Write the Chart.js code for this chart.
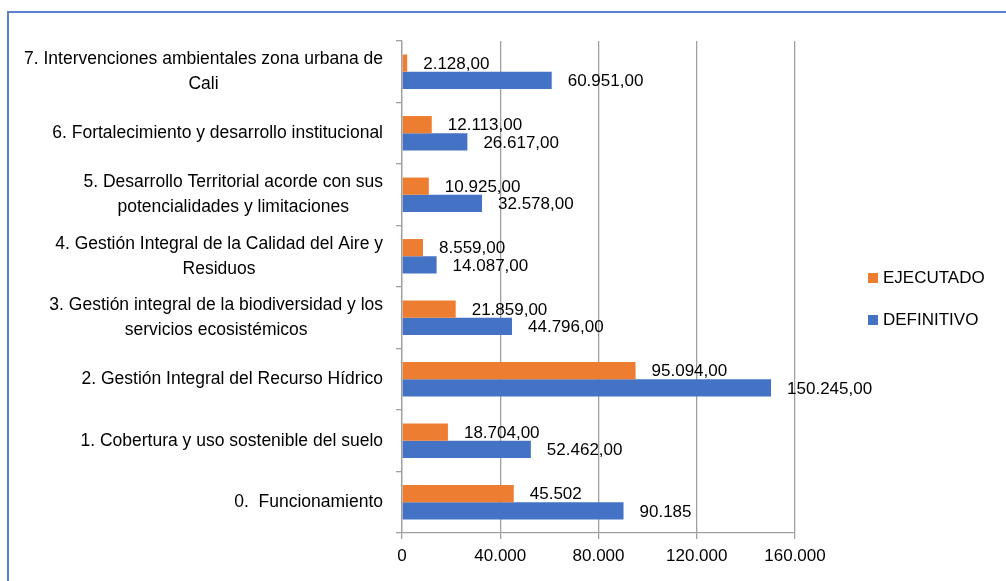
<!DOCTYPE html>
<html>
<head>
<meta charset="utf-8">
<script src="https://cdn.jsdelivr.net/npm/chart.js@4/dist/chart.umd.min.js"></script>
<style>
  html, body { margin: 0; padding: 0; background: #fff; overflow: hidden; }
  #wrap { position: relative; width: 1006px; height: 581px; }
  #frame {
    position: absolute; left: 7px; top: 11px; width: 1100px; height: 700px;
    border-top: 2px solid #5b80cc; border-left: 2px solid #5b80cc;
    pointer-events: none;
  }
</style>
</head>
<body>
<div id="wrap">
  <canvas id="Programas" width="1006" height="581"></canvas>
  <div id="frame"></div>
</div>
<script>
// program lines, top to bottom
const categories = [
  ['7. Intervenciones ambientales zona urbana de', 'Cali'],
  ['6. Fortalecimiento y desarrollo institucional'],
  ['5. Desarrollo Territorial acorde con sus', 'potencialidades y limitaciones'],
  ['4. Gestión Integral de la Calidad del Aire y', 'Residuos'],
  ['3. Gestión integral de la biodiversidad y los', 'servicios ecosistémicos'],
  ['2. Gestión Integral del Recurso Hídrico'],
  ['1. Cobertura y uso sostenible del suelo'],
  ['0.  Funcionamiento']
];
const ejecutado = [2128, 12113, 10925, 8559, 21859, 95094, 18704, 45502];
const definitivo = [60951, 26617, 32578, 14087, 44796, 150245, 52462, 90185];
const decimals = [2, 2, 2, 2, 2, 2, 2, 0];
const xTicks = [0, 40000, 80000, 120000, 160000];

const FONT = '"Liberation Sans", Arial, sans-serif';

function fmt(v, d) {
  const parts = v.toFixed(d).split('.');
  const s = parts[0].replace(/\B(?=(\d{3})+(?!\d))/g, '.');
  return parts[1] ? s + ',' + parts[1] : s;
}

// y labels: block right-aligned, lines centered inside it
const categoryLabels = {
  id: 'categoryLabels',
  afterDraw(chart) {
    const scale = chart.scales.y;
    const ctx = chart.ctx;
    ctx.save();
    ctx.font = '17.5px ' + FONT;
    ctx.fillStyle = '#000';
    ctx.textAlign = 'center';
    ctx.textBaseline = 'middle';
    categories.forEach((lines, i) => {
      const y = scale.getPixelForTick(i);
      const widest = Math.max(...lines.map(l => ctx.measureText(l).width));
      const cx = scale.right - 19 - widest / 2;
      lines.forEach((line, k) => {
        ctx.fillText(line, cx, y + (k - (lines.length - 1) / 2) * 25);
      });
    });
    ctx.restore();
  }
};

// value labels at the end of each bar
const valueLabels = {
  id: 'valueLabels',
  afterDatasetsDraw(chart) {
    const ctx = chart.ctx;
    ctx.save();
    ctx.font = '17px ' + FONT;
    ctx.fillStyle = '#000';
    ctx.textAlign = 'left';
    ctx.textBaseline = 'middle';
    chart.data.datasets.forEach((ds, di) => {
      chart.getDatasetMeta(di).data.forEach((bar, i) => {
        ctx.fillText(fmt(ds.data[i], decimals[i]), bar.x + 16, bar.y + 1);
      });
    });
    ctx.restore();
  }
};

// legend on the right
const sideLegend = {
  id: 'sideLegend',
  afterDraw(chart) {
    const ctx = chart.ctx;
    ctx.save();
    ctx.font = '17px ' + FONT;
    ctx.textBaseline = 'middle';
    ctx.textAlign = 'left';
    chart.data.datasets.forEach((ds, i) => {
      const y = 278 + i * 42;
      ctx.fillStyle = ds.backgroundColor;
      ctx.fillRect(868, y - 5, 10, 10);
      ctx.fillStyle = '#000';
      ctx.fillText(ds.label, 883, y);
    });
    ctx.restore();
  }
};

const dataBar = {
  labels: categories,
  datasets: [{
    label: 'EJECUTADO',
    data: ejecutado,
    backgroundColor: '#ED7D31',
    categoryPercentage: 0.56,
    barPercentage: 1
  }, {
    label: 'DEFINITIVO',
    data: definitivo,
    backgroundColor: '#4472C4',
    categoryPercentage: 0.56,
    barPercentage: 1
  }]
};

const configBar = {
  type: 'bar',
  data: dataBar,
  options: {
    indexAxis: 'y',
    responsive: false,
    animation: false,
    layout: { padding: { top: 41, right: 211, left: 0, bottom: 0 } },
    plugins: {
      legend: { display: false },
      tooltip: { enabled: false }
    },
    scales: {
      x: {
        min: 0,
        max: 160000,
        afterBuildTicks(scale) { scale.ticks = xTicks.map(v => ({ value: v })); },
        afterFit(scale) { scale.height = 48; },
        grid: { color: '#a0a0a0', lineWidth: 1.3, tickLength: 6 },
        border: { color: '#a0a0a0', width: 1.3 },
        ticks: {
          color: '#000',
          padding: 7,
          font: { family: FONT, size: 17 },
          callback: v => fmt(v, 0)
        }
      },
      y: {
        afterFit(scale) { scale.width = 402; },
        grid: { drawOnChartArea: false, color: '#a0a0a0', lineWidth: 1.3, tickLength: 6 },
        border: { color: '#a0a0a0', width: 1.3 },
        ticks: { color: 'rgba(0,0,0,0)', font: { family: FONT, size: 17 } }
      }
    }
  },
  plugins: [categoryLabels, valueLabels, sideLegend]
};

const barChart = new Chart(document.getElementById('Programas'), configBar);
</script>
</body>
</html>
